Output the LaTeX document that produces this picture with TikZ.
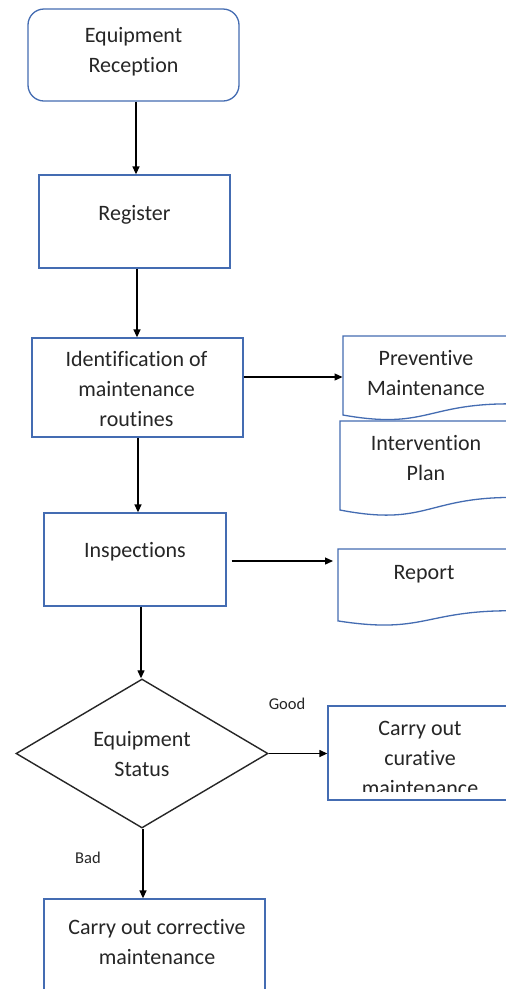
\documentclass[tikz,border=0pt]{standalone}
\usepackage{fontspec}
\setmainfont{Carlito}[Ligatures={NoCommon}]
\usetikzlibrary{arrows.meta,shapes.geometric}

\definecolor{boxblue}{RGB}{68,108,178}
\definecolor{ink}{RGB}{38,38,38}

\tikzset{
  box/.style={rectangle, draw=boxblue, line width=1.3pt, inner sep=0pt},
  rbox/.style={box, rounded corners=16pt},
  decision/.style={diamond, draw=ink, line width=1.4pt, inner sep=0pt},
  txt/.style={text=ink, font=\fontsize{22}{30}\selectfont, align=center, inner sep=0pt},
  small/.style={text=ink, font=\fontsize{16.5}{20}\selectfont, inner sep=0pt},
  docline/.style={draw=boxblue, line width=1.3pt},
  arr/.style={draw=black, line width=1.3pt, -{Triangle[length=8pt,width=7pt]}},
}

% flowchart document symbol: left, top, width, height
\newcommand{\flowdoc}[4]{%
  \draw[docline] (#1,#2) -- ({#1+#3},#2) -- ({#1+#3},{#2+0.802*#4})
    .. controls ({#1+0.5*#3},{#2+0.802*#4}) and ({#1+0.5*#3},{#2+1.108*#4}) ..
    (#1,{#2+0.934*#4}) -- cycle;}

\begin{document}
\begin{tikzpicture}[x=1pt,y=-1pt]
\useasboundingbox (0,0) rectangle (506,989);
\clip (0,0) rectangle (506,989);
\fill[white] (0,0) rectangle (506,989);

% main column
\node[rbox, minimum width=211pt, minimum height=92pt,
      label={[txt,yshift=3pt]center:Equipment\\Reception}] (rec) at (133.5,55) {};
\node[box, minimum width=191pt, minimum height=93pt,
      label={[txt,yshift=6.5pt]center:Register}] (reg) at (134.5,221.5) {};
\node[box, minimum width=211pt, minimum height=99pt,
      label={[txt,xshift=-1pt,yshift=-1pt]center:Identification of\\maintenance\\routines}] (ident) at (137.5,387.5) {};
\node[box, minimum width=182pt, minimum height=93pt,
      label={[txt,yshift=7.5pt]center:Inspections}] (insp) at (135,559.5) {};
\node[decision, minimum width=252pt, minimum height=149pt,
      label={[txt,yshift=-1pt]center:Equipment\\Status}] (dec) at (142,753.5) {};
\node[box, minimum width=221pt, minimum height=110pt,
      label={[txt,xshift=2.5pt,yshift=12pt]center:Carry out corrective\\maintenance}] (corr) at (154.5,954) {};

% outputs on the right
\flowdoc{343}{336}{166}{84.6}
\node[txt] (prev) at (426,373.5) {Preventive\\Maintenance};
\flowdoc{340}{421}{172}{95.3}
\node[txt] (plan) at (426,458.5) {Intervention\\Plan};
\flowdoc{338}{549}{172}{77}
\node[txt] (rep) at (424,574) {Report};

\node[box, minimum width=184pt, minimum height=94pt] (cur) at (420,753) {};
\begin{scope}
  \clip (328,706) rectangle (512,791);
  \node[txt] (curtxt) at (420,758.5) {Carry out\\curative\\maintenance};
\end{scope}

% branch labels
\node[small] (good) at (287,704) {Good};
\node[small] (bad) at (88,858) {Bad};

% connectors
\coordinate (previn) at (342.5,377);
\coordinate (repin) at (333,561);
\coordinate (inspout) at ([xshift=5pt]insp.east);

\draw[arr] ([xshift=2.5pt]rec.south) -- ([xshift=1.5pt]reg.north);
\draw[arr] ([xshift=2.5pt]reg.south) -- ([xshift=-0.5pt]ident.north);
\draw[arr] ([xshift=0.5pt]ident.south) -- ([xshift=3pt]insp.north);
\draw[arr] ([xshift=6pt]insp.south) -- ([xshift=-1pt]dec.north);
\draw[arr] ([xshift=1pt]dec.south) -- ([xshift=-11.5pt]corr.north);
\draw[arr] (ident.east |- previn) -- (previn);
\draw[arr] (inspout |- repin) -- (repin);
\draw[arr] (dec.east) -- (dec.east -| cur.west);
\end{tikzpicture}
\end{document}
